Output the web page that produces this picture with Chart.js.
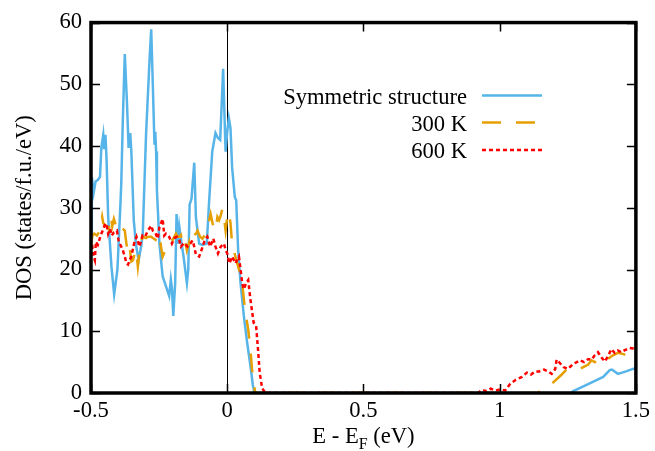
<!DOCTYPE html>
<html><head><meta charset="utf-8">
<script src="https://cdn.jsdelivr.net/npm/chart.js@4"></script>
<style>html,body{margin:0;padding:0;background:#fff}#c{display:block}</style>
</head><body>
<canvas id="c" width="655" height="451"></canvas>
<script>
// ---- data (E - E_F in eV, DOS in states/f.u./eV) ----
const symX=[-0.5,-0.497,-0.49,-0.483,-0.475,-0.467,-0.462,-0.455,-0.452,-0.447,-0.443,-0.437,-0.425,-0.415,-0.403,-0.392,-0.389,-0.383,-0.376,-0.368,-0.362,-0.356,-0.352,-0.343,-0.335,-0.325,-0.315,-0.310,-0.298,-0.285,-0.279,-0.273,-0.267,-0.264,-0.261,-0.258,-0.255,-0.249,-0.237,-0.225,-0.213,-0.207,-0.203,-0.198,-0.191,-0.186,-0.181,-0.176,-0.170,-0.160,-0.148,-0.143,-0.138,-0.131,-0.121,-0.115,-0.103,-0.091,-0.075,-0.067,-0.055,-0.043,-0.034,-0.026,-0.022,-0.015,-0.010,-0.006,0.000,0.006,0.012,0.018,0.028,0.033,0.040,0.049,0.061,0.073,0.085,0.094,0.100,1.260,1.270,1.319,1.380,1.404,1.412,1.434,1.464,1.489,1.500];
const symY=[25,35,32.5,34.3,34.5,35,39.7,41.8,39.5,41.8,38,28.5,20.5,16,20,30.6,33.8,44.5,54.9,47.1,39.7,42.1,39.2,28,24,21.5,24,25.8,41.8,54.1,58.9,49.8,40.2,42.3,39.1,32.8,30,24.2,18.9,17.3,15.7,18.4,17,12.5,17.8,29,24.2,27,25,22,17.8,20,30.5,31.5,37.3,28.5,24.2,24,24.2,30.6,39.1,42.1,41.3,41,45,52.5,45,39.1,42.3,44.5,42.9,36.5,31.7,31.2,23.2,17.8,12.5,8.2,4.5,1.3,0,0,0.3,1.3,2.6,3.7,3.8,3.1,3.5,3.9,4.0];

const k300X=[-0.5,-0.495,-0.488,-0.478,-0.467,-0.459,-0.455,-0.443,-0.435,-0.427,-0.422,-0.416,-0.408,-0.398,-0.388,-0.376,-0.370,-0.364,-0.358,-0.352,-0.346,-0.340,-0.334,-0.328,-0.319,-0.310,-0.298,-0.291,-0.279,-0.273,-0.263,-0.255,-0.249,-0.243,-0.237,-0.230,-0.225,-0.213,-0.200,-0.188,-0.182,-0.176,-0.170,-0.164,-0.156,-0.148,-0.139,-0.134,-0.128,-0.115,-0.109,-0.100,-0.091,-0.079,-0.067,-0.061,-0.051,-0.043,-0.036,-0.030,-0.024,-0.018,-0.012,-0.006,0.000,0.006,0.012,0.018,0.030,0.043,0.055,0.061,0.067,0.077,0.085,0.091,0.100,0.103,1.140,1.149,1.191,1.228,1.246,1.295,1.325,1.337,1.349,1.361,1.380,1.416,1.434,1.455,1.477,1.500];
const k300Y=[24,25.5,25.8,25.5,26.3,28.5,27.5,27,26.5,28.7,27,28.2,27,27.7,26.8,26.3,24.2,22.6,23.5,21.3,21.5,22.5,23.2,20.5,24.2,25.3,25.1,25.3,25.3,25.1,24.8,25.6,25.8,23.7,22.1,22.8,24.2,24.6,24.8,25.8,25.3,25.3,25.6,24.2,24.9,23.1,24.5,23.7,25.3,25.8,26.3,25.3,25.0,25.8,27.9,29.0,26.9,26.3,28.5,28,28.7,29.8,28.5,26.3,28.5,29.3,27.5,24.2,22.1,20.0,17.8,15.2,13.0,10.3,7.1,3.9,0.8,0,0,0.3,1.5,3.0,3.8,3.9,4.6,5.3,5.0,5.5,5.0,6.1,6.5,6.3,5.8,5.3];

const k600X=[-0.5,-0.495,-0.490,-0.486,-0.482,-0.475,-0.468,-0.462,-0.455,-0.448,-0.443,-0.437,-0.430,-0.424,-0.416,-0.405,-0.398,-0.390,-0.383,-0.376,-0.370,-0.364,-0.358,-0.352,-0.342,-0.333,-0.322,-0.311,-0.302,-0.291,-0.279,-0.273,-0.264,-0.255,-0.249,-0.237,-0.231,-0.225,-0.213,-0.203,-0.194,-0.185,-0.176,-0.170,-0.158,-0.146,-0.134,-0.127,-0.121,-0.115,-0.103,-0.094,-0.083,-0.073,-0.063,-0.051,-0.043,-0.034,-0.024,-0.012,-0.006,0.000,0.008,0.018,0.030,0.043,0.049,0.055,0.061,0.069,0.077,0.085,0.097,0.106,0.113,0.119,0.128,0.140,0.920,0.936,0.950,0.967,0.985,1.003,1.020,1.039,1.058,1.082,1.100,1.115,1.130,1.145,1.163,1.178,1.191,1.204,1.209,1.220,1.234,1.250,1.260,1.270,1.283,1.295,1.310,1.325,1.337,1.349,1.361,1.373,1.386,1.398,1.410,1.422,1.434,1.446,1.458,1.477,1.490,1.500];
const k600Y=[23.5,23.7,22,21.5,24.5,24,25,25.8,26.5,27.4,27.4,25.8,26.6,25.5,26,26.3,24.5,23.8,23.1,22.1,21,20.8,21.5,22.1,24.2,25.3,23.7,25.5,25.3,26.3,27.1,26.3,26,25,26.8,28.2,25.5,25.8,25.3,24.2,25.1,25.3,24.8,23.7,24.3,23.7,24.3,24.7,23.7,22.4,22.1,23.2,24.7,25.3,23.7,25,23.7,22.6,23.7,24.2,23.2,22.6,21,22.1,21,22.1,20,17.8,16.8,17.8,18.3,15.2,11.4,10.9,7.1,3.4,0.8,0,0,0.5,0.3,0.7,0.4,0.6,0.4,1.5,2.1,2.6,3.3,3.0,3.5,3.5,3.8,3.5,3.1,3.9,5.4,4.9,4.2,3.9,4.3,4.7,5.0,5.3,5.0,5.5,5.4,6.1,6.6,5.8,5.1,6.0,7.1,6.5,6.9,6.6,6.9,7.3,7.2,7.0];

const seriesNames=['Symmetric structure','300 K','600 K'];
const xTickLabels=['-0.5','0','0.5','1','1.5'];
const yTickLabels=['0','10','20','30','40','50','60'];
const xAxisTitle=['E - E','F',' (eV)'];
const yAxisTitle='DOS (states/f.u./eV)';

const FONT='"Liberation Serif", "Times New Roman", Times, serif';
const FS=22.6;

function pts(xs,ys){return xs.map((x,i)=>({x:x,y:ys[i]}));}

const framePlugin={
  id:'frame',
  afterDatasetsDraw(chart){
    const {ctx, chartArea:a, scales:{x,y}}=chart;
    ctx.save();
    ctx.strokeStyle='#000';
    ctx.lineWidth=1.5;
    const L=9;
    x.ticks.forEach(t=>{
      const p=Math.round(x.getPixelForValue(t.value))+0.5;
      ctx.beginPath();
      ctx.moveTo(p,a.bottom);ctx.lineTo(p,a.bottom-L);
      ctx.moveTo(p,a.top);ctx.lineTo(p,a.top+L);
      ctx.stroke();
    });
    y.ticks.forEach(t=>{
      const p=Math.round(y.getPixelForValue(t.value))+0.5;
      ctx.beginPath();
      ctx.moveTo(a.left,p);ctx.lineTo(a.left+L,p);
      ctx.moveTo(a.right,p);ctx.lineTo(a.right-L,p);
      ctx.stroke();
    });
    ctx.lineWidth=3.5;
    ctx.strokeRect(a.left,a.top,a.right-a.left,a.bottom-a.top);
    ctx.restore();
  },
  afterDraw(chart){
    const {ctx, chartArea:a}=chart;
    ctx.save();
    ctx.fillStyle='#000';
    ctx.font=FS+'px '+FONT;
    ctx.textBaseline='alphabetic';
    // legend
    const ds=chart.data.datasets;
    const textRight=467, lx1=482, lx2=542;
    const rows=[{b:104,l:95.5},{b:131,l:122.5},{b:158,l:150}];
    ds.forEach((d,i)=>{
      ctx.textAlign='right';
      ctx.fillStyle='#000';
      ctx.fillText(d.label,textRight,rows[i].b);
      ctx.beginPath();
      ctx.strokeStyle=d.borderColor;
      ctx.lineWidth=d.borderWidth;
      ctx.setLineDash(d.borderDash||[]);
      ctx.moveTo(lx1,rows[i].l);ctx.lineTo(lx2,rows[i].l);
      ctx.stroke();
      ctx.setLineDash([]);
    });
    // x axis title with subscript
    const subFS=16;
    ctx.textAlign='left';
    ctx.font=FS+'px '+FONT;
    const w1=ctx.measureText(xAxisTitle[0]).width;
    const w3=ctx.measureText(xAxisTitle[2]).width;
    ctx.font=subFS+'px '+FONT;
    const w2=ctx.measureText(xAxisTitle[1]).width;
    const total=w1+w2+w3;
    let sx=(a.left+a.right)/2-total/2;
    const base=443;
    ctx.font=FS+'px '+FONT;
    ctx.fillText(xAxisTitle[0],sx,base);
    ctx.font=subFS+'px '+FONT;
    ctx.fillText(xAxisTitle[1],sx+w1,base+6);
    ctx.font=FS+'px '+FONT;
    ctx.fillText(xAxisTitle[2],sx+w1+w2,base);
    ctx.restore();
  }
};

new Chart(document.getElementById('c'),{
  type:'line',
  data:{datasets:[
    {label:seriesNames[0],data:pts(symX,symY),borderColor:'#56B4E9',borderWidth:2.5,pointRadius:0,tension:0,order:3},
    {label:seriesNames[1],data:pts(k300X,k300Y),borderColor:'#E69F00',borderWidth:2.5,borderDash:[19,15],pointRadius:0,tension:0,order:2},
    {label:seriesNames[2],data:pts(k600X,k600Y),borderColor:'#FF0000',borderWidth:2.5,borderDash:[4,3],pointRadius:0,tension:0,order:1}
  ]},
  options:{
    responsive:false,animation:false,events:[],
    layout:{padding:{top:18,right:15,left:0,bottom:0}},
    plugins:{legend:{display:false},tooltip:{enabled:false}},
    scales:{
      x:{type:'linear',min:-0.5,max:1.5,
        afterFit:s=>{s.height=58;},
        border:{display:false},
        grid:{display:true,drawTicks:false,lineWidth:1,
          color:c=>(c.tick && Math.abs(c.tick.value)<1e-9)?'#000':'rgba(0,0,0,0)'},
        ticks:{stepSize:0.5,padding:5,color:'#000',font:{family:FONT,size:FS},maxRotation:0,
          callback:(v,i)=>xTickLabels[i]}
      },
      y:{type:'linear',min:0,max:60,
        afterFit:s=>{s.width=91;},
        border:{display:false},
        grid:{display:false,drawTicks:false},
        ticks:{stepSize:10,padding:9,color:'#000',font:{family:FONT,size:FS},
          callback:(v,i)=>yTickLabels[i]},
        title:{display:true,text:yAxisTitle,color:'#000',font:{family:FONT,size:FS},padding:{top:12,bottom:0}}
      }
    }
  },
  plugins:[framePlugin]
});
</script>
</body></html>
